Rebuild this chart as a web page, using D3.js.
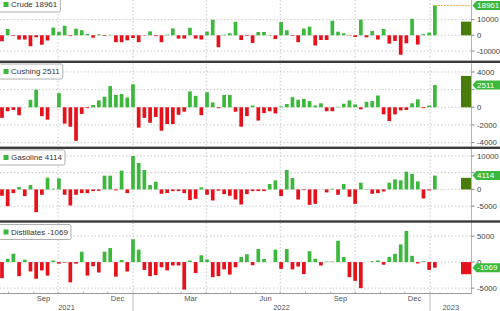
<!DOCTYPE html>
<html>
<head>
<meta charset="utf-8">
<script src="https://cdn.jsdelivr.net/npm/d3@7"></script>
<style>
  body { margin: 0; background: #fff; }
  svg { display: block; font-family: "Liberation Sans", Arial, sans-serif; }
</style>
</head>
<body>
<div id="chart"></div>
<script>
// weekly changes, thousand barrels (week ending Fridays, Jul 23 2021 .. Jan 6 2023)
const seriesNames = ["Crude", "Cushing", "Gasoline", "Distillates"];

const crude = [
  -3800, 4000, -400, -2700, -2700, -7000, -1300, -6000, -3300, 4900,
  2300, 6100, -400, 4200, 3200, 800, -1500, 600, -400, 300,
  -4400, -4400, -3200, -1700, -4400, -200, 2500, -500, -4400, 400,
  4400, -2100, -2100, 4800, -2100, -2700, 2400, 9900, -7600, 400,
  1300, 8600, -3000, -400, -4900, 2100, 2100, 200, -2400, 8400,
  3200, -400, -4400, 4300, 5500, -6500, -3000, -3000, 9300, 2300,
  1300, -200, -1100, 10000, -1300, 2700, -2700, 4000, -5300, -3600,
  -12400, -5100, 10500, -5900, 700, 1700, 18961
];
const cushing = [
  -1200, -450, -300, -900, 0, 850, 2000, -1000, -1400, 0,
  1600, -1850, -2200, -3800, -750, -100, 260, 780, 1200, 2400,
  1400, 1500, 1100, 2600, -2300, -1200, -1750, -1100, -2650, -1900,
  -1900, -850, -500, 1800, 1300, -900, 1700, 550, -100, 1400,
  1400, -500, -2200, -1000, 200, -1500, -650, -450, -700, 100,
  370, 1150, 850, 950, 700, 200, 450, -450, -450, 50,
  400, 780, 330, -230, 630, 700, 1330, -800, -1550, -800,
  -350, -300, 450, 900, -100, 200, 2511
];
const gasoline = [
  -1900, -5000, -1100, 700, -2000, 1300, -6800, -1600, 3500, 200,
  3300, -1600, -4800, -1600, -1100, -1100, -500, -400, 4100, 4100,
  -300, 5600, -1100, 10000, 7900, 5800, 1300, 2300, -1300, -1100,
  -500, -500, -1100, -3200, -2800, 600, -1600, -3300, -400, -1400,
  -1900, -3000, -4500, -1400, -500, -500, -500, 1600, 2700, -2000,
  5800, 3400, -3000, -200, -4600, -4300, 0, -900, 200, -1600,
  1600, -2200, -4300, 2000, 100, -1300, -1100, -600, 2000, 3000,
  2700, 5300, 4600, 2400, -2700, -300, 4114
];
const distillates = [
  -3100, 600, 1600, -2700, 450, -1800, -3200, -1600, -2600, 300,
  -300, -100, -3900, -300, 2000, -2600, -800, -2000, 2000, 2700,
  -2800, 400, -1800, 4400, 2400, -1500, -2700, -2500, -1000, -1600,
  -650, -650, -5300, 300, -2100, 1300, 500, -2900, -2700, -1400,
  -2400, -1000, 1000, 1500, -600, 2500, 600, 0, 2400, -1300,
  2500, -1400, -850, -2300, 2100, 650, -650, 100, 100, 4100,
  1000, -2900, -3600, -5000, 0, 150, 300, -500, 1000, 1600,
  3400, 6000, 1200, -250, 150, -1500, -1069
];
const sideValues = [8700, 3550, 3450, -2330];

const yTicks = [
  [-10000, 0, 10000],
  [-4000, -2000, 0, 2000, 4000],
  [-5000, 0, 5000, 10000],
  [-5000, 0, 5000]
];
const monthLabels = ["Sep", "Dec", "Mar", "Jun", "Sep", "Dec"];
const yearLabels = ["2021", "2022", "2023"];

const allSeries = [crude, cushing, gasoline, distillates];
const weeks = d3.timeFriday.range(new Date(2021, 6, 23), new Date(2023, 0, 7));

const W = 500, H = 311, axisX = 471.5, axisBottom = 293.5;
const GREEN = "#3cb83c", RED = "#e5111b", DARK_GREEN = "#4a7c0c";

// panel layout: plot top/bottom and value domain
const panels = [
  { top: 0,     bottom: 60.5,  legendY: -3,    domain: [-16050, 22480] },
  { top: 63.3,  bottom: 146.5, legendY: 64,    domain: [-4440, 4980] },
  { top: 148.8, bottom: 220,   legendY: 150,   domain: [-9130, 12120] },
  { top: 222.5, bottom: 293.3, legendY: 224.5, domain: [-6000, 7615] }
];

const x = d3.scaleTime()
  .domain([new Date(2022, 0, 1), new Date(2023, 0, 1)])
  .range([133, 430]);

const svg = d3.select("#chart").append("svg")
  .attr("width", W).attr("height", H)
  .attr("viewBox", `0 0 ${W} ${H}`);

svg.append("rect").attr("width", W).attr("height", H).attr("fill", "#fff");

const quarters = d3.timeMonth.every(3).range(new Date(2021, 9, 1), new Date(2023, 0, 2));

panels.forEach((p, i) => {
  const values = allSeries[i];
  const y = d3.scaleLinear().domain(p.domain).range([p.bottom, p.top]);
  const g = svg.append("g");
  const last = values[values.length - 1];
  const ty = y(last);

  g.append("clipPath").attr("id", "clip" + i)
    .append("rect").attr("x", 0).attr("y", p.top)
    .attr("width", axisX).attr("height", p.bottom - p.top);

  const plot = g.append("g").attr("clip-path", `url(#clip${i})`);

  // gridlines
  plot.selectAll(".hgrid").data(yTicks[i]).join("line")
    .attr("x1", 0).attr("x2", axisX)
    .attr("y1", d => y(d)).attr("y2", d => y(d))
    .attr("stroke", "#bdbdbd").attr("stroke-width", 0.8)
    .attr("stroke-dasharray", "1.5,2");
  plot.selectAll(".vgrid").data(quarters).join("line")
    .attr("x1", d => x(d)).attr("x2", d => x(d))
    .attr("y1", p.top).attr("y2", p.bottom)
    .attr("stroke", "#bdbdbd").attr("stroke-width", 0.8)
    .attr("stroke-dasharray", "1.5,2");

  // bars
  const bw = 3.7;
  plot.selectAll(".bar").data(values).join("rect")
    .attr("x", (d, k) => x(weeks[k]) + 0.8 - bw / 2)
    .attr("width", bw)
    .attr("y", d => y(Math.max(0, d)))
    .attr("height", d => Math.abs(y(d) - y(0)))
    .attr("fill", d => d >= 0 ? GREEN : RED);

  // high marker line when last value is the series high
  if (last === d3.max(values)) {
    plot.append("line")
      .attr("x1", x(weeks[weeks.length - 1]) + 0.8).attr("x2", axisX)
      .attr("y1", ty).attr("y2", ty)
      .attr("stroke", "#e0a850").attr("stroke-width", 0.9)
      .attr("stroke-dasharray", "2,1");
  }

  // side bar
  const sv = sideValues[i];
  plot.append("rect")
    .attr("x", 461).attr("width", 10.5)
    .attr("y", y(Math.max(0, sv)))
    .attr("height", Math.abs(y(sv) - y(0)))
    .attr("fill", sv >= 0 ? DARK_GREEN : RED);

  // right axis
  g.append("line")
    .attr("x1", axisX).attr("x2", axisX)
    .attr("y1", p.top).attr("y2", Math.min(p.bottom + 2, axisBottom))
    .attr("stroke", "#8fcf8f").attr("stroke-width", 1);
  const ticks = g.selectAll(".tick").data(yTicks[i]).join("g")
    .attr("transform", d => `translate(${axisX},${y(d)})`);
  ticks.append("line").attr("x2", 3).attr("stroke", "#666").attr("stroke-width", 0.8);
  // labels hidden behind the last-value tag are not drawn
  ticks.filter(d => Math.abs(y(d) - ty) > 5.5).append("text")
    .attr("x", 5.5).attr("dy", "0.35em")
    .attr("font-size", 7.8).attr("fill", "#444")
    .text(d => d)
    .each(function () {
      const room = W - axisX - 5.5;
      if (this.getComputedTextLength() > room) d3.select(this).attr("textLength", room);
    });

  // last value tag
  g.append("path")
    .attr("d", `M${axisX + 1},${ty} L${axisX + 5},${ty - 4.5} L${W},${ty - 4.5} L${W},${ty + 4.5} L${axisX + 5},${ty + 4.5} Z`)
    .attr("fill", GREEN);
  g.append("text")
    .attr("x", axisX + 5.5).attr("y", ty).attr("dy", "0.35em")
    .attr("font-size", 8).attr("fill", "#fff")
    .text(last);

  // legend box
  const lg = g.append("g").attr("transform", `translate(0,${p.legendY})`);
  const box = lg.append("rect")
    .attr("x", -1).attr("y", 0).attr("height", 15)
    .attr("fill", "#fff").attr("stroke", "#9a9a9a").attr("stroke-width", 0.8)
    .attr("rx", 1.5);
  lg.append("rect").attr("x", 3.5).attr("y", 5).attr("width", 5).attr("height", 5)
    .attr("fill", GREEN);
  const lt = lg.append("text")
    .attr("x", 11).attr("y", 7.5).attr("dy", "0.35em")
    .attr("font-size", 8).attr("fill", "#333")
    .text(`${seriesNames[i]}  ${last}`);
  box.attr("width", lt.node().getComputedTextLength() + 15);
});

// panel separators
[60.6, 146.6, 220.3].forEach(sy => {
  svg.append("rect").attr("x", 0).attr("y", sy).attr("width", W).attr("height", 2.4)
    .attr("fill", "#3b3b3b");
});

// bottom time axis
svg.append("line")
  .attr("x1", 0).attr("x2", axisX).attr("y1", axisBottom).attr("y2", axisBottom)
  .attr("stroke", "#9a9a9a").attr("stroke-width", 1);

const months = d3.timeMonth.range(new Date(2021, 7, 1), new Date(2023, 1, 1));
svg.selectAll(".mtick").data(months).join("line")
  .attr("x1", d => x(d)).attr("x2", d => x(d))
  .attr("y1", axisBottom - 2).attr("y2", axisBottom)
  .attr("stroke", "#9a9a9a").attr("stroke-width", 0.8);

const labelMonths = d3.timeMonth.range(new Date(2021, 8, 1), new Date(2023, 0, 1), 3);
svg.selectAll(".mlabel").data(labelMonths).join("text")
  .attr("x", d => x(d3.timeDay.offset(d, 12)))
  .attr("y", 301)
  .attr("text-anchor", "middle")
  .attr("font-size", 7.5).attr("fill", "#555")
  .text((d, k) => monthLabels[k]);

const yearStarts = [new Date(2022, 0, 1), new Date(2023, 0, 1)];
svg.selectAll(".ysep").data(yearStarts).join("line")
  .attr("x1", d => x(d)).attr("x2", d => x(d))
  .attr("y1", axisBottom).attr("y2", H)
  .attr("stroke", "#aaa").attr("stroke-width", 0.8);

const yearBounds = [0, x(yearStarts[0]), x(yearStarts[1]), axisX];
svg.selectAll(".ylabel").data(yearLabels).join("text")
  .attr("x", (d, k) => (yearBounds[k] + yearBounds[k + 1]) / 2)
  .attr("y", 310)
  .attr("text-anchor", "middle")
  .attr("font-size", 7.5).attr("fill", "#555")
  .text(d => d);
</script>
</body>
</html>
